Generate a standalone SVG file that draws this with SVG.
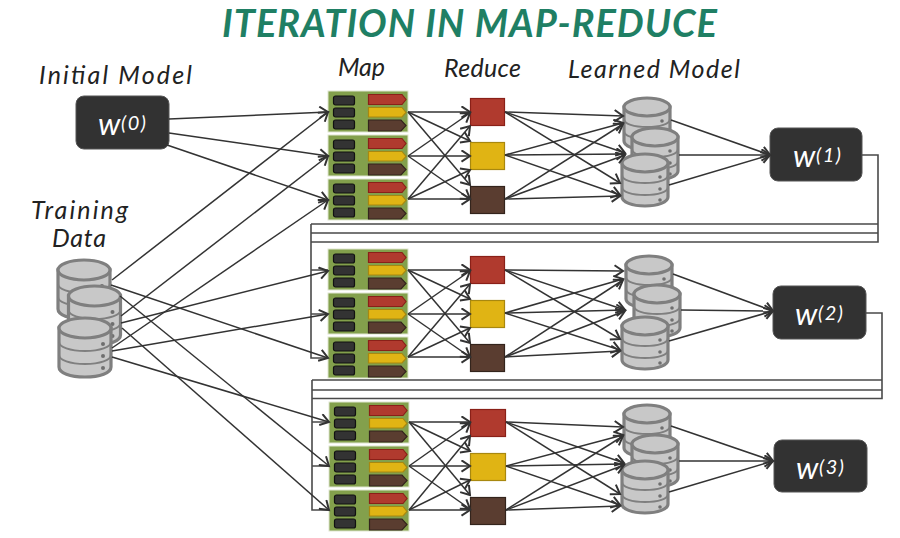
<svg xmlns="http://www.w3.org/2000/svg" width="900" height="538" viewBox="0 0 900 538">
<style>
.hand{font-family:"Lato","Liberation Sans",sans-serif;font-style:italic;fill:#222;font-size:25px}
.title{font-family:"Lato","Liberation Sans",sans-serif;font-style:italic;font-weight:700;fill:#1f7f64;font-size:38px}
.w{font-family:"Lato","Liberation Sans",sans-serif;font-style:italic;fill:#fff;font-size:31px}
.sup{font-family:"Lato","Liberation Sans",sans-serif;font-style:italic;fill:#fff;font-size:20px}
.box{fill:#323232;stroke:#555;stroke-width:1}
.bg{fill:#83a04c;stroke:#dfe6d0;stroke-width:1}
.k{fill:#333;stroke:#111;stroke-width:1.2}
.r{fill:#b03a2e;stroke:#8a2018;stroke-width:1.2}
.y{fill:#e0b414;stroke:#a8880f;stroke-width:1.2}
.b{fill:#5a3d30;stroke:#33241c;stroke-width:1.2}
.dbs{fill:#c8c8c8;stroke:#7f7f7f;stroke-width:3.2}
.dbl{fill:none;stroke:#7f7f7f;stroke-width:2}
.dot{fill:#6f6f6f}
line{stroke:#333;stroke-width:1.5;fill:none;marker-end:url(#a)}
.f{fill:none;stroke:#4a4a4a;stroke-width:1.6}
</style>
<defs>
<marker id="a" markerUnits="userSpaceOnUse" markerWidth="12" markerHeight="14" refX="9.500" refY="6.500" orient="auto">
<path d="M1,0.800 L9.500,6.500 L1,12.200" fill="none" stroke="#333" stroke-width="2"/>
</marker>
<g id="mapblock">
<rect class="bg" width="80" height="41"/>
<rect class="k" x="5.500" y="5" width="21" height="9" rx="2"/>
<rect class="k" x="5.500" y="17" width="21" height="9" rx="2"/>
<rect class="k" x="5.500" y="29" width="21" height="9" rx="2"/>
<path class="r" d="M40.500,3.500H74L78,8.500L74,13.500H40.500Z"/>
<path class="y" d="M40.500,16.500H74L78,21.500L74,26H40.500Z"/>
<path class="b" d="M40.500,29H73L78,34.500L73,40H40.500Z"/>
</g>
<g id="db">
<path class="dbs" d="M0,9V43C0,48 10,52 23,52C36,52 46,48 46,43V9Z"/>
<path class="dbl" d="M0,21C0,26 10,29 23,29C36,29 46,26 46,21M0,33C0,38 10,41 23,41C36,41 46,38 46,33"/>
<ellipse class="dbs" cx="23" cy="9" rx="23" ry="9"/>
<circle class="dot" cx="38" cy="23" r="1.800"/><circle class="dot" cx="38" cy="35" r="1.800"/><circle class="dot" cx="38" cy="46" r="1.800"/>
</g>
<g id="dbt">
<path class="dbs" d="M0,10V49C0,55 11,59 26,59C41,59 52,55 52,49V10Z"/>
<path class="dbl" d="M0,24C0,29 11,33 26,33C41,33 52,29 52,24M0,37C0,42 11,46 26,46C41,46 52,42 52,37"/>
<ellipse class="dbs" cx="26" cy="10" rx="26" ry="10"/>
<circle class="dot" cx="44" cy="26" r="2"/><circle class="dot" cx="44" cy="38" r="2"/><circle class="dot" cx="44" cy="50" r="2"/>
</g>
</defs>
<rect width="900" height="538" fill="#fff"/>
<g id="labels">
<text class="title" x="222" y="37" textLength="495" lengthAdjust="spacing">ITERATION IN MAP-REDUCE</text>
<text class="hand" x="39" y="84" textLength="153">Initial Model</text>
<text class="hand" x="338" y="76" textLength="47">Map</text>
<text class="hand" x="444" y="77" textLength="77">Reduce</text>
<text class="hand" x="568" y="78" textLength="172">Learned Model</text>
<text class="hand" x="31" y="219" textLength="97">Training</text>
<text class="hand" x="52" y="247" textLength="54">Data</text>
</g>
<g id="w0"><rect class="box" x="76" y="96" width="93" height="53" rx="8"/><text class="w" x="98" y="135">w</text><text class="sup" x="121" y="130" textLength="25">(0)</text></g>
<g id="w1"><rect class="box" x="770" y="128" width="92" height="53" rx="8"/><text class="w" x="793" y="167">w</text><text class="sup" x="816" y="162" textLength="25">(1)</text></g>
<g id="w2"><rect class="box" x="773" y="286" width="93" height="53" rx="8"/><text class="w" x="795" y="325">w</text><text class="sup" x="818" y="320" textLength="25">(2)</text></g>
<g id="w3"><rect class="box" x="774" y="440" width="93" height="52" rx="8"/><text class="w" x="796" y="479">w</text><text class="sup" x="819" y="474" textLength="25">(3)</text></g>
<g id="training-data">
<use href="#dbt" x="58" y="260"/><use href="#dbt" x="68.500" y="286"/><use href="#dbt" x="59" y="318"/>
</g>
<g id="map-1"><use href="#mapblock" x="328" y="91"/></g>
<g id="map-2"><use href="#mapblock" x="328" y="135"/></g>
<g id="map-3"><use href="#mapblock" x="328" y="179"/></g>
<g id="map-4"><use href="#mapblock" x="328" y="249"/></g>
<g id="map-5"><use href="#mapblock" x="328" y="293"/></g>
<g id="map-6"><use href="#mapblock" x="328" y="337"/></g>
<g id="map-7"><use href="#mapblock" x="329" y="402"/></g>
<g id="map-8"><use href="#mapblock" x="329" y="446"/></g>
<g id="map-9"><use href="#mapblock" x="329" y="490"/></g>
<g id="reduce-1"><rect class="r" x="470.500" y="98.500" width="34" height="27"/></g>
<g id="reduce-2"><rect class="y" x="470.500" y="142.500" width="34" height="27"/></g>
<g id="reduce-3"><rect class="b" x="470.500" y="186.500" width="34" height="27"/></g>
<g id="reduce-4"><rect class="r" x="470.500" y="256.500" width="34" height="27"/></g>
<g id="reduce-5"><rect class="y" x="470.500" y="300.500" width="34" height="27"/></g>
<g id="reduce-6"><rect class="b" x="470.500" y="344.500" width="34" height="27"/></g>
<g id="reduce-7"><rect class="r" x="470.500" y="409.500" width="35" height="27"/></g>
<g id="reduce-8"><rect class="y" x="470.500" y="453.500" width="35" height="27"/></g>
<g id="reduce-9"><rect class="b" x="470.500" y="497.500" width="35" height="27"/></g>
<g id="learned-1"><use href="#db" x="624" y="98"/><use href="#db" x="632" y="128"/><use href="#db" x="622" y="154"/></g>
<g id="learned-2"><use href="#db" x="626" y="256"/><use href="#db" x="634" y="285"/><use href="#db" x="622" y="317"/></g>
<g id="learned-3"><use href="#db" x="624" y="405"/><use href="#db" x="632" y="435"/><use href="#db" x="622" y="461"/></g>
<g id="connectors">
<path class="f" d="M862,155H878V242H311V358H328M311,224H878M311,233H878M311,224V242M311,270H328M311,314H328"/>
<path class="f" d="M866,313H882V398.500H312V510H329M312,380H882M312,390H882M312,380V398M312,422H329M312,466H329"/>
<line x1="169" y1="119" x2="328" y2="112"/><line x1="169" y1="133" x2="328" y2="156"/><line x1="167" y1="145" x2="328" y2="200"/>
<line x1="112" y1="280" x2="328" y2="112"/><line x1="121" y1="316" x2="328" y2="156"/><line x1="112" y1="348" x2="328" y2="200"/>
<line x1="121" y1="323" x2="328" y2="271"/><line x1="112" y1="351" x2="328" y2="314"/><line x1="111" y1="285" x2="328" y2="358"/>
<line x1="112" y1="357" x2="329" y2="422"/><line x1="120" y1="296" x2="329" y2="466"/><line x1="122" y1="328" x2="329" y2="510"/>

<line x1="408" y1="112" x2="470" y2="112"/><line x1="408" y1="112" x2="470" y2="141"/><line x1="408" y1="112" x2="470" y2="185"/>
<line x1="408" y1="156" x2="470" y2="113"/><line x1="408" y1="156" x2="470" y2="156"/><line x1="408" y1="156" x2="470" y2="199"/>
<line x1="408" y1="199" x2="470" y2="126"/><line x1="408" y1="199" x2="470" y2="170"/><line x1="408" y1="199" x2="470" y2="199"/>

<line x1="408" y1="270" x2="470" y2="270"/><line x1="408" y1="270" x2="470" y2="299"/><line x1="408" y1="270" x2="470" y2="343"/>
<line x1="408" y1="314" x2="470" y2="271"/><line x1="408" y1="314" x2="470" y2="314"/><line x1="408" y1="314" x2="470" y2="357"/>
<line x1="408" y1="357" x2="470" y2="284"/><line x1="408" y1="357" x2="470" y2="328"/><line x1="408" y1="357" x2="470" y2="357"/>

<line x1="409" y1="422" x2="470" y2="422"/><line x1="409" y1="422" x2="470" y2="451"/><line x1="409" y1="422" x2="470" y2="495"/>
<line x1="409" y1="466" x2="470" y2="423"/><line x1="409" y1="466" x2="470" y2="466"/><line x1="409" y1="466" x2="470" y2="509"/>
<line x1="409" y1="510" x2="470" y2="436"/><line x1="409" y1="510" x2="470" y2="480"/><line x1="409" y1="510" x2="470" y2="510"/>

<line x1="505" y1="112" x2="623" y2="116"/><line x1="505" y1="112" x2="625" y2="153"/><line x1="505" y1="112" x2="620" y2="183"/>
<line x1="505" y1="155" x2="623" y2="123"/><line x1="505" y1="155" x2="625" y2="154"/><line x1="505" y1="155" x2="620" y2="195"/>
<line x1="505" y1="199" x2="623" y2="124"/><line x1="505" y1="199" x2="625" y2="155"/><line x1="505" y1="199" x2="620" y2="196"/>

<line x1="505" y1="270" x2="623" y2="271"/><line x1="505" y1="270" x2="625" y2="310"/><line x1="505" y1="270" x2="620" y2="339"/>
<line x1="505" y1="313" x2="623" y2="279"/><line x1="505" y1="313" x2="625" y2="310"/><line x1="505" y1="313" x2="620" y2="350"/>
<line x1="505" y1="357" x2="623" y2="280"/><line x1="505" y1="357" x2="625" y2="311"/><line x1="505" y1="357" x2="620" y2="351"/>

<line x1="506" y1="422" x2="623" y2="427"/><line x1="506" y1="422" x2="624" y2="463"/><line x1="506" y1="422" x2="620" y2="494"/>
<line x1="506" y1="466" x2="623" y2="435"/><line x1="506" y1="466" x2="624" y2="464"/><line x1="506" y1="466" x2="620" y2="505"/>
<line x1="506" y1="510" x2="623" y2="436"/><line x1="506" y1="510" x2="624" y2="465"/><line x1="506" y1="510" x2="620" y2="506"/>

<line x1="671" y1="120" x2="770" y2="155"/><line x1="679" y1="155" x2="770" y2="155"/><line x1="669" y1="185" x2="770" y2="155"/>
<line x1="673" y1="274" x2="773" y2="311"/><line x1="681" y1="310" x2="773" y2="311"/><line x1="669" y1="341" x2="773" y2="311"/>
<line x1="671" y1="426" x2="773" y2="461"/><line x1="679" y1="461" x2="773" y2="461"/><line x1="669" y1="492" x2="773" y2="461"/>
</g>
</svg>
